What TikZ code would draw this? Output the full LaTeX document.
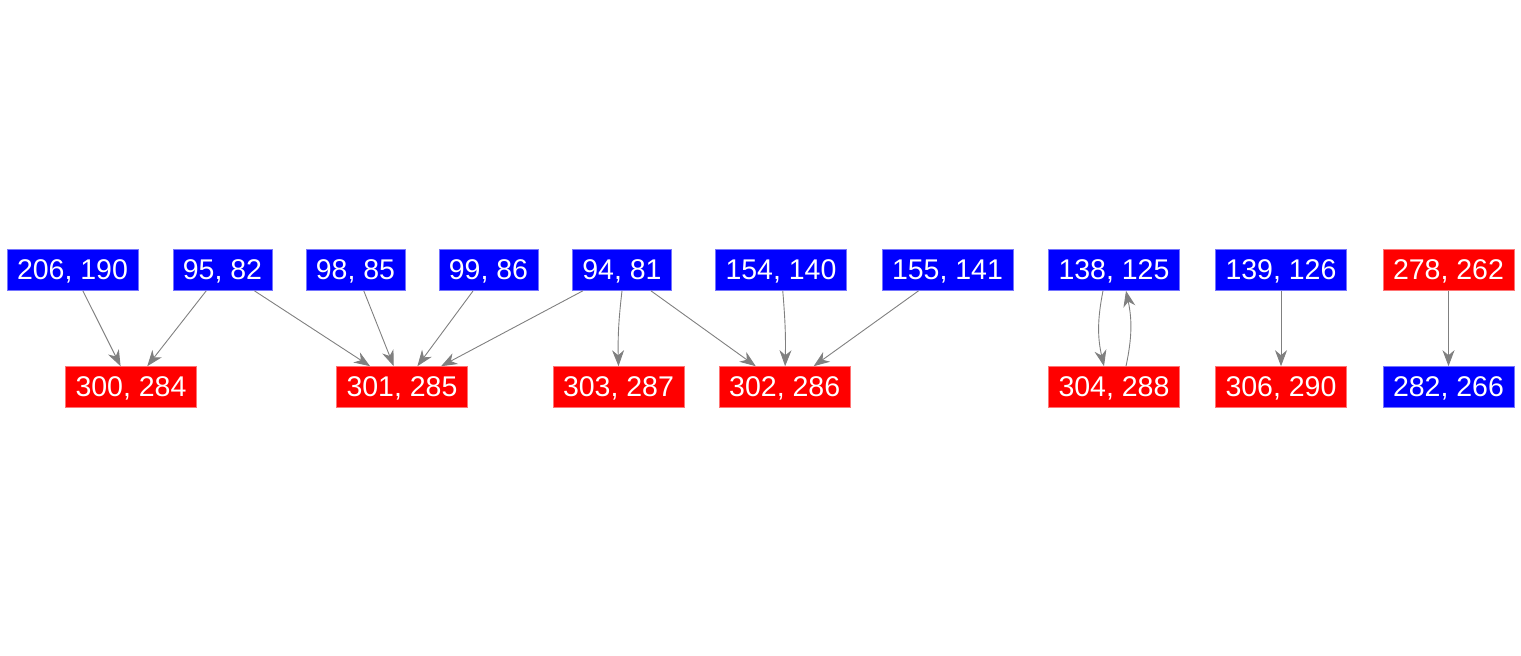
\documentclass[tikz,border=0pt]{standalone}
\usepackage{fontspec}
\setmainfont{Liberation Sans}
\usetikzlibrary{arrows.meta}
\begin{document}
\begin{tikzpicture}[x=1pt,y=-1pt,
  box/.style={inner xsep=10pt,inner ysep=0pt,minimum height=41pt,text=white,
    text depth=0pt,font=\fontsize{28.5}{30}\selectfont,anchor=center},
  bn/.style={box,fill=blue,draw=blue!55!white,line width=0.6pt},
  rn/.style={box,fill=red,draw=red!55!white,line width=0.6pt},
  e/.style={draw=gray,line width=0.9pt,-{Stealth[length=16pt,width=12pt,inset=5pt]}}]
\useasboundingbox (0,0) rectangle (1521,656);
\node[bn] (a206) at (72.5,270) {206, 190};
\node[bn] (a95) at (222.5,270) {95, 82};
\node[bn] (a98) at (355.5,270) {98, 85};
\node[bn] (a99) at (488.5,270) {99, 86};
\node[bn] (a94) at (622,270) {94, 81};
\node[bn] (a154) at (781,270) {154, 140};
\node[bn] (a155) at (947.5,270) {155, 141};
\node[bn] (a138) at (1114,270) {138, 125};
\node[bn] (a139) at (1281,270) {139, 126};
\node[rn] (a278) at (1448.5,270) {278, 262};
\node[rn] (b300) at (131,387) {300, 284};
\node[rn] (b301) at (402,387) {301, 285};
\node[rn] (b303) at (618.5,387) {303, 287};
\node[rn] (b302) at (784.7,387) {302, 286};
\node[rn] (b304) at (1114,387) {304, 288};
\node[rn] (b306) at (1281,387) {306, 290};
\node[bn] (b282) at (1448.5,387) {282, 266};
\draw[e] (a206) -- (b300);
\draw[e] (a95) -- (b300);
\draw[e] (a95) -- (b301);
\draw[e] (a98) -- (b301);
\draw[e] (a99) -- (b301);
\draw[e] (a94) -- (b301);
\draw[e] (a94.south) to[bend right=4] (b303.north);
\draw[e] (a94) -- (b302);
\draw[e] (a154) to[bend left=3] (b302);
\draw[e] (a155) -- (b302);
\draw[e] ([xshift=-11pt]a138.south) to[bend right=12] ([xshift=-10pt]b304.north);
\draw[e] ([xshift=12pt]b304.north) to[bend right=12] ([xshift=12pt]a138.south);
\draw[e] (a139) -- (b306);
\draw[e] (a278) -- (b282);
\end{tikzpicture}
\end{document}
